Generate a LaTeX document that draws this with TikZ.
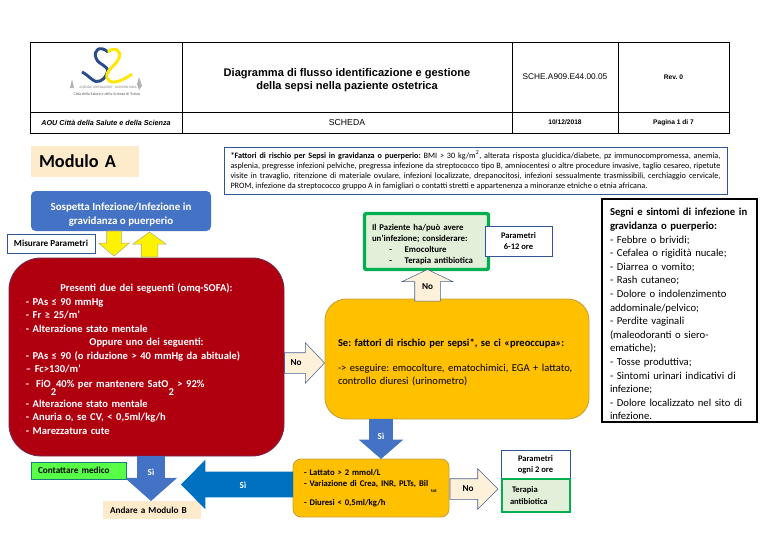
\documentclass[tikz,border=0pt]{standalone}
\usepackage{fontspec}
\setmainfont{Carlito}
\newfontfamily\arialfont{Liberation Sans}
\usepackage{xcolor}
\usetikzlibrary{calc, shapes.arrows}
\definecolor{cream}{HTML}{FDEBCB}
\definecolor{paleyellow}{HTML}{FDF1D9}
\definecolor{blueline}{HTML}{2F5597}
\definecolor{bluebox}{HTML}{4472C4}
\definecolor{bluedeep}{HTML}{0070C0}
\definecolor{darkred}{HTML}{B00010}
\definecolor{amber}{HTML}{FFC000}
\definecolor{greenline}{HTML}{00B050}
\definecolor{greenfill}{HTML}{E2F0D9}
\definecolor{lime}{HTML}{57FF46}

\begin{document}
\frenchspacing
\begin{tikzpicture}[
        x=0.75pt, y=-0.75pt,
        size/.style 2 args={minimum width=#1*0.75pt, minimum height=#2*0.75pt},
        cell/.style={draw, line width=0.75pt, inner sep=0pt, align=center},
        box/.style={rectangle, inner sep=0pt, align=center, outer sep=0pt},
        tag/.style={box, draw=blueline, fill=white, line width=0.6pt},
        bigarrow/.style n args={5}{single arrow, inner sep={(#2/2-#3)*0.75pt}, outer sep=0pt,
            minimum height=#1*0.75pt, minimum width=#2*0.75pt,
            single arrow head extend=#3*0.75pt, single arrow tip angle=#4,
            shape border rotate=#5, anchor=tip},
        lab/.style={font=\fontsize{6.9}{8}\selectfont\bfseries, inner sep=0pt}
    ]
        \useasboundingbox (0,0) rectangle (775,550);

        % header
        \node[cell, size={152}{70}] (h1) at (106,77) {};
        \node[cell, size={330}{70}, font=\fontsize{8.3}{10}\selectfont\arialfont\bfseries] (h2) at (347,77)
            {\rule{0pt}{11pt}Diagramma di flusso identificazione e gestione\\della sepsi nella paziente ostetrica};
        \node[cell, size={106}{70}, font=\fontsize{6.2}{7}\selectfont\arialfont] (h3) at (565,77) {SCHE.A909.E44.00.05};
        \node[cell, size={111}{70}, font=\fontsize{5}{7}\selectfont\arialfont\bfseries] (h4) at (673.5,77) {Rev. 0};
        \node[cell, size={152}{21}, font=\fontsize{5.4}{7}\selectfont\arialfont\bfseries\itshape] (h5) at (106,122.5) {AOU Città della Salute e della Scienza};
        \node[cell, size={330}{21}, font=\fontsize{6.5}{9}\selectfont\arialfont] (h6) at (347,122.5) {SCHEDA};
        \node[cell, size={106}{21}, font=\fontsize{5}{7}\selectfont\arialfont\bfseries] (h7) at (565,122.5) {10/12/2018};
        \node[cell, size={111}{21}, font=\fontsize{5}{7}\selectfont\arialfont\bfseries] (h8) at (673.5,122.5) {Pagina 1 di 7};

        % logo
        \draw[line width=2.2pt, color=blueline!90!black] (108,52) .. controls (100,45) and (93,50) .. (96,58)
            .. controls (99,66) and (108,64) .. (108,73);
        \draw[line width=2.2pt, color=blueline!90!black] (82,72) .. controls (90,76) and (94,84) .. (100,81)
            .. controls (105,79) and (107,74) .. (108,70);
        \draw[line width=2.2pt, color=yellow!90!orange] (108,52) .. controls (114,46) and (122,50) .. (119,58)
            .. controls (116,66) and (105,70) .. (107,78) .. controls (109,84) and (118,84) .. (132,74);
        \fill[gray!60] (70,88) -- (72,79) -- (74,88) -- cycle;
        \fill[gray!60] (139,77) -- (142,86) -- (139,90) -- (137,84) -- cycle;
        \node[font=\fontsize{2.6}{3}\selectfont, text=gray, inner sep=0pt] (logo1) at (108,87) {AZIENDA OSPEDALIERO - UNIVERSITARIA};
        \node[font=\fontsize{3}{3}\selectfont, text=gray!70!black, inner sep=0pt] (logo2) at (107,94) {Città della Salute e della Scienza di Torino};

        % left column
        \node[box, fill=cream, size={108}{31}, text width=69pt, align=left,
            font=\fontsize{13.7}{15}\selectfont\bfseries] (nmod) at (85,161.5) {Modulo A};
        \node[box, rounded corners=3.5pt, fill=bluebox, text=white, size={180}{40},
            font=\fontsize{8.2}{10.5}\selectfont\bfseries] (nsosp) at (121,211)
            {\rule{0pt}{10.4pt}Sospetta Infezione/Infezione in\\gravidanza o puerperio};
        \node[tag, size={88}{19}, lab] (nmis) at (51,243.5) {Misurare Parametri};
        \node[box, rounded corners=24pt, fill=darkred, draw=blueline!45!darkred, line width=0.7pt,
            size={275}{198}, text=white, text width=180.75pt, align=left,
            font=\fontsize{7.9}{10.1}\selectfont\bfseries] (nred) at (146.5,357)
            {\rule{0pt}{9.1pt}\makebox[\hsize]{Presenti due dei seguenti (omq-SOFA):}\\
            - PAs ≤ 90 mmHg\\
            - Fr ≥ 25/m’\\
            - Alterazione stato mentale\\
            \makebox[\hsize]{Oppure uno dei seguenti:}\\
            - PAs ≤ 90 (o riduzione > 40 mmHg da abituale)\\
            – Fc>130/m’\\[1pt]
            -\ \ FiO\smash{\raisebox{-6pt}{2}}40\% per mantenere SatO\smash{\raisebox{-6pt}{2}} > 92\%\\[4.9pt]
            - Alterazione stato mentale\\
            - Anuria o, se CV, < 0,5ml/kg/h\\
            - Marezzatura cute};

        % risk factors
        \node[box, draw=blueline, line width=0.7pt, fill=white, size={503}{47}, text width=367.5pt, align=justify,
            font=\fontsize{6.15}{7.6}\selectfont] (nrisk) at (475.5,170.5)
            {\textbf{*Fattori di rischio per Sepsi in gravidanza o puerperio:} BMI > 30 kg/m\textsuperscript{2}, alterata risposta glucidica/diabete, pz immunocompromessa, anemia,\linebreak
            asplenia, pregresse infezioni pelviche, pregressa infezione da streptococco tipo B, amniocentesi o altre procedure invasive, taglio cesareo, ripetute\linebreak
            visite in travaglio, ritenzione di materiale ovulare, infezioni localizzate, drepanocitosi, infezioni sessualmente trasmissibili, cerchiaggio cervicale,\linebreak
            PROM, infezione da streptococco gruppo A in famigliari o contatti stretti e appartenenza a minoranze etniche o etnia africana.};

        % block arrows
        \node[bigarrow={25}{30}{8}{100}{270}, fill=yellow, draw=gray!70!yellow] (a1) at ($(nred.north)+(-32.5,-2)$) {};
        \node[bigarrow={25}{33}{8.5}{108}{90}, fill=yellow, draw=gray!70!yellow] (a2) at ($(nsosp.south)+(28.5,1)$) {};

        % middle column
        \node[box, rounded corners=16pt, fill=amber, draw=amber!55!gray, line width=0.7pt, size={264}{120},
            text width=178.5pt, align=left, font=\fontsize{7.9}{9.4}\selectfont] (norange) at (457,359)
            {\rule{0pt}{10.5pt}\textbf{Se: fattori di rischio per sepsi*, se ci «preoccupa»:}\\[9.4pt]
            -> eseguire: emocolture, ematochimici, EGA + lattato,\\
            controllo diuresi (urinometro)};
        \node[box, fill=greenfill, draw=greenline, line width=2.6pt, rounded corners=1.5pt, size={124}{56},
            text width=81.75pt, align=left, font=\fontsize{6.6}{8.25}\selectfont\bfseries] (ngreen) at (426.5,241.5)
            {\rule{0pt}{8.8pt}Il Paziente ha/può avere\\un’infezione; considerare:\\
            \hspace*{13pt}-\hspace*{9.5pt}Emocolture\\
            \hspace*{13pt}-\hspace*{9.5pt}Terapia antibiotica};
        \node[tag, size={67}{30}, font=\fontsize{6.4}{8.25}\selectfont\bfseries] (nparam) at (518.5,241) {Parametri\\6-12 ore};

        % lower row
        \node[box, rounded corners=6pt, fill=amber, draw=amber!55!gray, line width=0.7pt, size={156}{58},
            text width=100.5pt, align=left, font=\fontsize{6.5}{8.25}\selectfont\bfseries] (nlab) at (371,488)
            {- Lattato > 2 mmol/L\\
            - Variazione di Crea, INR, PLTs, Bil\rlap{\raisebox{-4.5pt}{\fontsize{3.5}{4}\selectfont\ tot}}\\[4.5pt]
            - Diuresi < 0,5ml/kg/h};
        \node[box, fill=cream, size={98}{18}, text width=63pt, align=left, lab] (nmodb) at (152,510) {Andare a Modulo B};
        \node[tag, size={69}{30}, font=\fontsize{6.4}{8.5}\selectfont\bfseries] (nparam2) at (535.5,465) {Parametri\\ogni 2 ore};
        \node[box, fill=greenfill, draw=greenline, line width=2.2pt, size={68}{33}, text width=39pt, align=left,
            font=\fontsize{6.4}{8.8}\selectfont\bfseries] (nter) at (536,495.5) {\hspace*{1.5pt}Terapia\\antibiotica};

        \node[bigarrow={40}{40}{10}{93}{0}, fill=paleyellow, draw=blueline!70!gray] (a3) at ($(norange.west)+(-0.5,4)$) {};
        \node[bigarrow={28}{50}{12.5}{129}{90}, fill=paleyellow, draw=blueline!70!gray] (a4) at ($(ngreen.south)+(1,0)$) {};
        \node[bigarrow={45}{52}{12.5}{97}{270}, fill=bluebox, draw=none] (a5) at ($(nmodb.north)+(-1,0)$) {};
        \node[bigarrow={112}{49}{12}{91}{180}, fill=bluedeep, draw=none] (a6) at ($(nlab.west)+(-112,-3.5)$) {};
        \node[bigarrow={40}{44}{10.5}{98}{270}, fill=bluebox, draw=none] (a7) at ($(nlab.north)+(10,0)$) {};
        \node[bigarrow={48}{40}{10}{90}{0}, fill=paleyellow, draw=blueline!70!gray] (a8) at ($(nter.west)+(-4,-6.5)$) {};

        \node[box, fill=lime, draw=blueline!60!greenline, line width=0.6pt, size={95}{17}, text width=60.75pt, align=left, lab] (ncont) at (78.5,470.5) {Contattare medico};

        % arrow labels
        \node[lab] (l1) at (296,363) {No};
        \node[lab] (l2) at (427.5,287) {No};
        \node[lab, text=white] (l3) at (151,472) {Sì};
        \node[lab, text=white] (l4) at (243,485) {Sì};
        \node[lab, text=white] (l5) at (381,436) {Sì};
        \node[lab] (l6) at (468,489) {No};

        % signs and symptoms
        \node[box, draw, line width=0.8pt, fill=white, size={155}{223}, text width=104.25pt, align=left,
            font=\fontsize{8}{10.2}\selectfont] (nsigns) at (679.5,310.5)
            {\rule{0pt}{11.2pt}\textbf{Segni e sintomi di infezione in}\\
            \textbf{gravidanza o puerperio:}\\
            - Febbre o brividi;\\
            - Cefalea o rigidità nucale;\\
            - Diarrea o vomito;\\
            - Rash cutaneo;\\
            - Dolore o indolenzimento\\
            addominale/pelvico;\\
            - Perdite vaginali\\
            (maleodoranti o siero-\\
            ematiche);\\
            - Tosse produttiva;\\
            - Sintomi urinari indicativi di\\
            infezione;\\
            - Dolore localizzato nel sito di\\
            infezione.};
    \end{tikzpicture}
\end{document}
